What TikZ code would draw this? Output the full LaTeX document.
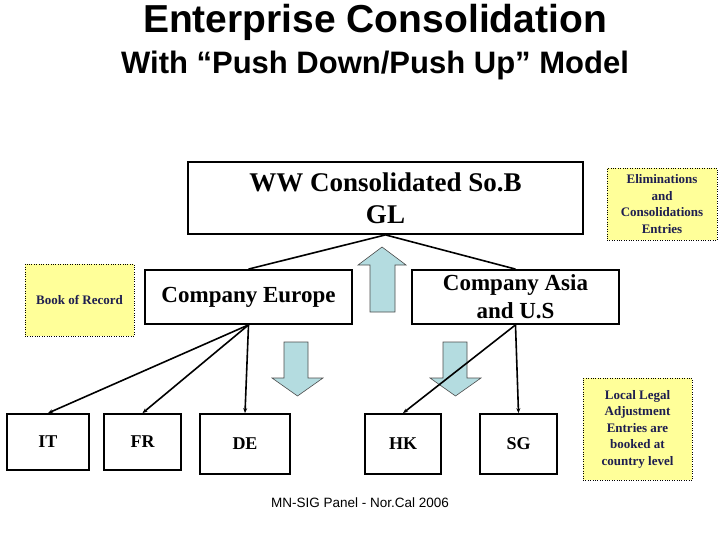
\documentclass[tikz,border=0pt]{standalone}
\usepackage{fontspec}
\setmainfont{Liberation Serif}
\newfontfamily\sansf{Liberation Sans}
\usetikzlibrary{arrows.meta}
\definecolor{note}{RGB}{255,255,153}
\definecolor{arrowfill}{RGB}{180,220,224}
\definecolor{navy}{RGB}{30,30,80}
\begin{document}
\begin{tikzpicture}[x=1pt,y=-1pt,
  box/.style={draw,line width=1.8pt,fill=white,inner sep=0pt,align=center,font=\bfseries},
  notebox/.style={draw,dotted,fill=note,inner sep=0pt,align=center,font=\bfseries\fontsize{13}{16.5}\selectfont,text=navy},
  conn/.style={line width=1.6pt,-{Stealth[length=5pt,width=4pt]}},
  fat/.style={draw=black!70,fill=arrowfill,line width=0.6pt}]
\useasboundingbox (0,0) rectangle (720,540);
\node[font=\sansf\bfseries\fontsize{39}{44}\selectfont] (t1) at (375,22) {Enterprise Consolidation};
\node[font=\sansf\bfseries\fontsize{31}{36}\selectfont] (t2) at (375,65) {With “Push Down/Push Up” Model};
\node[box,minimum width=395pt,minimum height=72pt,font=\bfseries\fontsize{27}{32}\selectfont] (ww) at (385.5,198) {WW Consolidated So.B\\GL};
\node[notebox,minimum width=110pt,minimum height=72pt] (elim) at (662,204) {Eliminations\\and\\Consolidations\\Entries};
\node[notebox,minimum width=109pt,minimum height=72pt] (bor) at (79.5,300) {Book of Record};
\node[box,minimum width=207pt,minimum height=54pt,font=\bfseries\fontsize{23}{28}\selectfont] (eu) at (248.5,297) {Company Europe};
\node[box,minimum width=207pt,minimum height=54pt,font=\bfseries\fontsize{23}{28}\selectfont] (as) at (515.5,297) {Company Asia\\and U.S};
\node[box,minimum width=82pt,minimum height=56pt,font=\bfseries\fontsize{18}{21}\selectfont] (it) at (48,442) {IT};
\node[box,minimum width=77pt,minimum height=56pt,font=\bfseries\fontsize{18}{21}\selectfont] (fr) at (142.5,442) {FR};
\node[box,minimum width=90pt,minimum height=60pt,font=\bfseries\fontsize{18}{21}\selectfont] (de) at (245,444) {DE};
\node[box,minimum width=76pt,minimum height=60pt,font=\bfseries\fontsize{18}{21}\selectfont] (hk) at (403,444) {HK};
\node[box,minimum width=77pt,minimum height=60pt,font=\bfseries\fontsize{18}{21}\selectfont] (sg) at (518.5,444) {SG};
\node[notebox,minimum width=109pt,minimum height=102pt] (loc) at (637.5,429) {Local Legal\\Adjustment\\Entries are\\booked at\\country level};
\node[font=\sansf\fontsize{13.5}{16}\selectfont] (foot) at (360,503) {MN-SIG Panel - Nor.Cal 2006};
% fat arrows
\draw[fat] (370,312)--(395,312)--(395,265)--(406,265)--(382,247)--(358,265)--(370,265)--cycle;
\draw[fat] (284,342)--(308,342)--(308,378)--(323,378)--(297.5,396)--(272,378)--(284,378)--cycle;
\draw[fat] (443,342)--(467,342)--(467,378)--(481,378)--(455.5,396)--(430,378)--(443,378)--cycle;
% connectors
\draw[line width=1.6pt] (eu.north) -- (ww.south);
\draw[line width=1.6pt] (as.north) -- (ww.south);
\draw[conn] (eu.south) -- (it.north);
\draw[conn] (eu.south) -- (fr.north);
\draw[conn] (eu.south) -- (de.north);
\draw[conn] (as.south) -- (hk.north);
\draw[conn] (as.south) -- (sg.north);
\end{tikzpicture}
\end{document}
